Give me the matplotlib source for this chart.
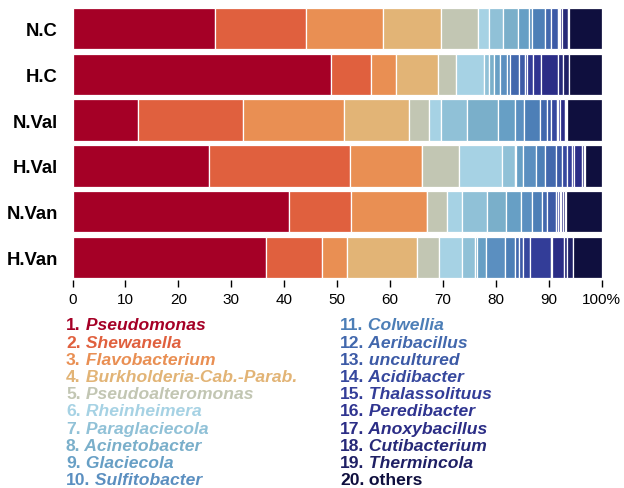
import matplotlib
matplotlib.use("Agg")
import matplotlib.pyplot as plt
import numpy as np

plt.rcParams["font.family"] = ["Liberation Sans", "DejaVu Sans"]

samples = ["N.C", "H.C", "N.Val", "H.Val", "N.Van", "H.Van"]

genera = ["Pseudomonas", "Shewanella", "Flavobacterium", "Burkholderia-Cab.-Parab.",
          "Pseudoalteromonas", "Rheinheimera", "Paraglaciecola", "Acinetobacter",
          "Glaciecola", "Sulfitobacter", "Colwellia", "Aeribacillus", "uncultured",
          "Acidibacter", "Thalassolituus", "Peredibacter", "Anoxybacillus",
          "Cutibacterium", "Thermincola", "others"]

# relative abundance (%) per genus, in the order of `genera`
n_c = [27.0, 17.2, 14.4, 11.1, 7.0, 2.0, 2.6, 3.0, 1.9, 0.6, 2.6, 1.1, 1.3, 0.1, 0.1, 0.1, 0.4, 1.2, 0.1, 6.2]
h_c = [48.9, 7.6, 4.7, 7.8, 3.5, 5.3, 1.0, 0.9, 1.2, 1.2, 0.6, 1.7, 1.2, 0.4, 1.1, 1.5, 3.2, 1.0, 1.1, 6.1]
n_val = [12.4, 19.8, 19.2, 12.3, 3.6, 2.4, 4.8, 5.9, 3.3, 1.6, 3.1, 1.2, 0.9, 1.0, 0.3, 0.3, 0.9, 0.3, 0.2, 6.5]
h_val = [25.8, 26.7, 13.5, 0.0, 7.1, 8.0, 2.5, 0.3, 1.3, 2.4, 1.8, 1.9, 1.2, 1.0, 1.0, 0.3, 1.6, 0.2, 0.2, 3.2]
n_van = [40.9, 11.8, 14.3, 0.0, 3.8, 2.8, 4.8, 3.5, 2.9, 2.1, 1.9, 0.9, 1.6, 0.5, 0.4, 0.2, 0.3, 0.3, 0.2, 6.8]
h_van = [36.5, 10.6, 4.7, 13.4, 4.0, 4.5, 2.4, 0.4, 1.6, 3.6, 1.9, 0.8, 0.8, 1.3, 3.9, 0.3, 2.2, 0.6, 1.1, 5.4]

x_ticks = [0, 10, 20, 30, 40, 50, 60, 70, 80, 90, 100]
x_tick_labels = ["0", "10", "20", "30", "40", "50", "60", "70", "80", "90", "100%"]

colors = ["#a50026", "#e0603e", "#e98f53", "#e2b476", "#c2c6b3", "#a6d2e4",
          "#90c1d7", "#7aafca", "#679fc5", "#5b8fc0", "#4d7fb7", "#4268ad",
          "#3c5aa6", "#36489e", "#333d98", "#2f3490", "#2b2d86", "#262978",
          "#1f2065", "#0f0f3e"]

data = np.array([n_c, h_c, n_val, h_val, n_van, h_van])

fig = plt.figure(figsize=(6.24, 4.89), dpi=100)
ax = fig.add_axes([0.1162, 0.4245, 0.8478, 0.562])

y = np.arange(len(samples))
left = np.zeros(len(samples))
for j in range(len(genera)):
    ax.barh(y, data[:, j], left=left, height=0.9, color=colors[j],
            edgecolor="white", linewidth=0.9)
    left += data[:, j]

ax.set_xlim(0, 100)
ax.set_ylim(len(samples) - 0.5, -0.5)
ax.set_yticks(y)
ax.set_yticklabels(samples, fontsize=13.3, fontweight="bold")
ax.set_xticks(x_ticks)
ax.set_xticklabels(x_tick_labels, fontsize=11)
ax.tick_params(axis="y", length=0, pad=10.4)
ax.tick_params(axis="x", length=5, width=1, pad=3)
for s in ax.spines.values():
    s.set_visible(False)

# two-column coloured legend of genus names
row_h = 17.2 / 489
y0 = 1 - 326 / 489
col_x = [66 / 624, 340 / 624]
for i, name in enumerate(genera):
    col = i // 10
    row = i % 10
    yy = y0 - row * row_h
    num = fig.text(col_x[col], yy, f"{i + 1}.", color=colors[i], fontsize=12.6,
                   fontweight="bold", va="center", ha="left")
    style = "normal" if name == "others" else "italic"
    ax.annotate(" " + name, xy=(1, 0), xycoords=num, color=colors[i],
                fontsize=12.6, fontweight="bold", fontstyle=style,
                va="bottom", ha="left", annotation_clip=False)

fig.savefig("out.png", dpi=100)
